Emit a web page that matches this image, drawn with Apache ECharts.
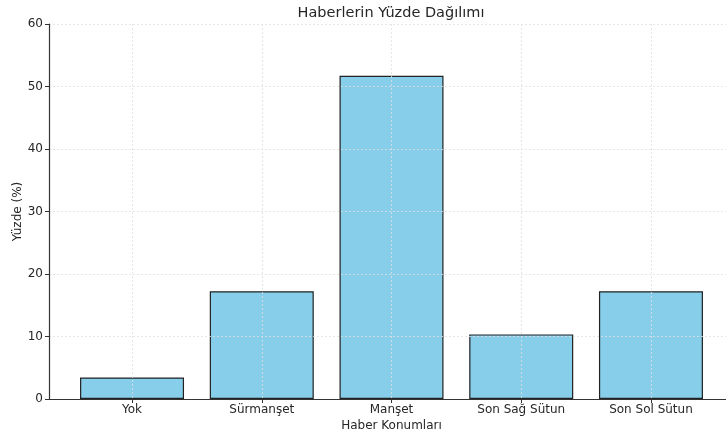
<!DOCTYPE html>
<html>
<head>
<meta charset="utf-8">
<script src="https://cdn.jsdelivr.net/npm/echarts@6/dist/echarts.min.js"></script>
<style>
    html, body { margin: 0; padding: 0; background: #fff; }
    #chart { width: 726px; height: 432px; }
</style>
</head>
<body>
<div id="chart"></div>
<script>
    // haber konumlarına göre yüzde dağılımı
    var categories = ['Yok', 'Sürmanşet', 'Manşet', 'Son Sağ Sütun', 'Son Sol Sütun'];
    var percents = [3.45, 17.24, 51.72, 10.34, 17.24];
    var yTicks = [0, 10, 20, 30, 40, 50, 60];
    var xTicks = categories.map(function (c, i) { return i; });

    var chartDom = document.getElementById('chart');
    var myChart = echarts.init(chartDom);
    var font = 'DejaVu Sans';

    var barData = percents.map(function (v, i) { return [i, v]; });

    var option = {
        animation: false,
        title: {
            text: 'Haberlerin Yüzde Dağılımı',
            left: 386,
            textAlign: 'center',
            top: 1,
            textStyle: { fontFamily: font, fontSize: 14.5, fontWeight: 'normal', color: '#262626' }
        },
        grid: { left: 49, right: -8, top: 24, bottom: 33, outerBoundsMode: 'none', containLabel: false },
        xAxis: {
            type: 'value',
            min: -0.64,
            max: 4.64,
            z: 5,
            name: 'Haber Konumları',
            nameLocation: 'middle',
            nameGap: 21,
            nameMoveOverlap: false,
            nameTextStyle: { fontFamily: font, fontSize: 12, color: '#262626' },
            axisLine: { onZero: false, lineStyle: { color: '#333', width: 1.2 } },
            axisTick: { show: true, length: 4, customValues: xTicks, lineStyle: { color: '#333' } },
            axisLabel: {
                customValues: xTicks,
                margin: 5,
                fontFamily: font, fontSize: 12, color: '#262626',
                formatter: function (v) { return categories[Math.round(v)]; }
            },
            splitLine: {
                show: true,
                customValues: xTicks,
                lineStyle: { color: '#e0e0e0', type: [2, 2], width: 0.8 }
            }
        },
        yAxis: {
            type: 'value',
            min: yTicks[0],
            max: yTicks[yTicks.length - 1],
            interval: 10,
            z: 5,
            name: 'Yüzde (%)',
            nameLocation: 'middle',
            nameGap: 25,
            nameMoveOverlap: false,
            nameTextStyle: { fontFamily: font, fontSize: 12, color: '#262626' },
            axisLine: { show: true, onZero: false, lineStyle: { color: '#333', width: 1.2 } },
            axisTick: { show: true, length: 4, lineStyle: { color: '#333' } },
            axisLabel: { margin: 6, fontFamily: font, fontSize: 12, color: '#262626' },
            splitLine: { show: true, lineStyle: { color: '#e0e0e0', type: [2, 2], width: 0.8 } }
        },
        series: [{
            type: 'bar',
            data: barData,
            barWidth: 104,
            itemStyle: { color: '#87CEEB', borderColor: '#222', borderWidth: 1.2 }
        }]
    };

    option && myChart.setOption(option);
</script>
</body>
</html>
